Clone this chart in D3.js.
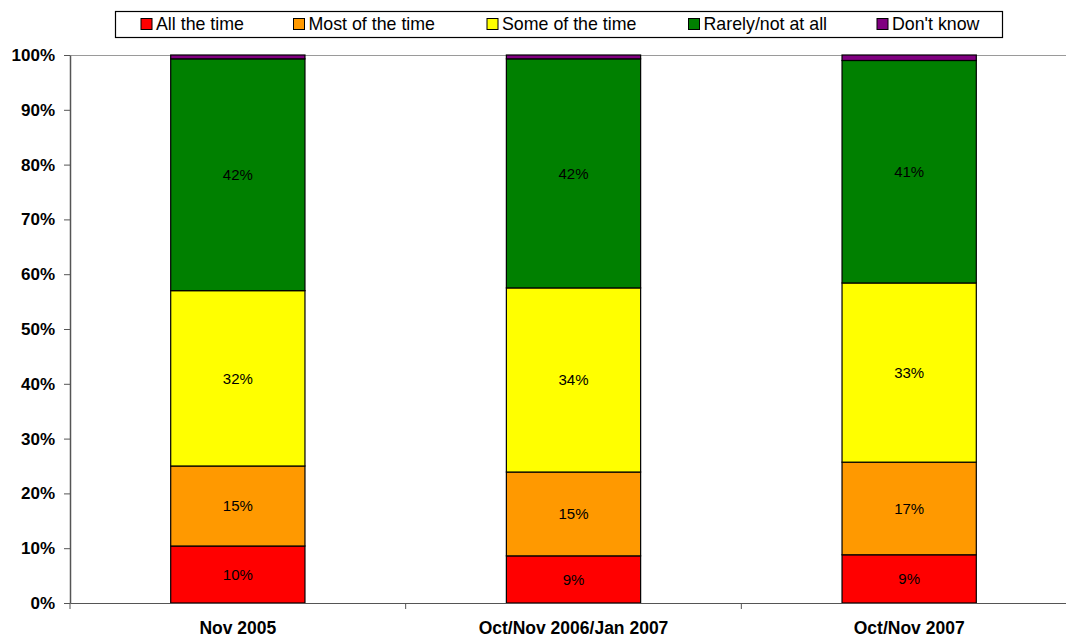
<!DOCTYPE html>
<html>
<head>
<meta charset="utf-8">
<script src="https://cdn.jsdelivr.net/npm/d3@7"></script>
<style>
  html, body { margin: 0; padding: 0; background: #fff; }
  svg { display: block; font-family: "Liberation Sans", Arial, sans-serif; }
</style>
</head>
<body>
<svg id="chart" width="1066" height="639"></svg>
<script>
// Survey waves
const categories = ["Nov 2005", "Oct/Nov 2006/Jan 2007", "Oct/Nov 2007"];

// Response options, bottom to top of each stack
const seriesNames = ["All the time", "Most of the time", "Some of the time", "Rarely/not at all", "Don't know"];
const seriesColors = ["#FF0000", "#FF9900", "#FFFF00", "#008000", "#800080"];

// Share of respondents (%) per wave
const allTheTime   = [10.4, 8.6, 8.8];
const mostOfTime   = [14.6, 15.3, 16.9];
const someOfTime   = [32.0, 33.6, 32.7];
const rarelyNotAll = [42.3, 41.8, 40.6];
const dontKnow     = [0.7, 0.7, 1.0];

// Only the four substantive answers carry value labels
const labelled = [true, true, true, true, false];

const yTicks = [0, 10, 20, 30, 40, 50, 60, 70, 80, 90, 100];

const seriesValues = [allTheTime, mostOfTime, someOfTime, rarelyNotAll, dontKnow];
const rows = categories.map((c, i) => {
  const r = { category: c };
  seriesNames.forEach((s, k) => { r[s] = seriesValues[k][i]; });
  return r;
});

const svg = d3.select("#chart");
const plot = { left: 70, right: 1077, top: 55, bottom: 603 };

const x = d3.scaleBand().domain(categories).range([plot.left, plot.right]).padding(0);
const y = d3.scaleLinear().domain([0, 100]).range([plot.bottom, plot.top]);
const color = d3.scaleOrdinal().domain(seriesNames).range(seriesColors);
const barWidth = x.bandwidth() * 0.4;

const stacked = d3.stack().keys(seriesNames)(rows);

// Plot area top border
svg.append("line")
  .attr("x1", plot.left).attr("x2", plot.right)
  .attr("y1", plot.top + 0.5).attr("y2", plot.top + 0.5)
  .attr("stroke", "#9a9a9a").attr("stroke-width", 1);

// Stacked bars
const layers = svg.append("g").selectAll("g")
  .data(stacked).join("g")
  .attr("fill", d => color(d.key));

layers.selectAll("rect")
  .data(d => d.map(p => ({ p, key: d.key })))
  .join("rect")
  .attr("x", d => x(d.p.data.category) + (x.bandwidth() - barWidth) / 2)
  .attr("y", d => y(d.p[1]))
  .attr("width", barWidth)
  .attr("height", d => y(d.p[0]) - y(d.p[1]))
  .attr("stroke", "#000")
  .attr("stroke-width", 1.2);

// Value labels centred in each segment
const labelLayers = stacked.filter((d, k) => labelled[k]);
svg.append("g").selectAll("g")
  .data(labelLayers).join("g")
  .selectAll("text")
  .data(d => d.map(p => ({ p, key: d.key })))
  .join("text")
  .attr("x", d => x(d.p.data.category) + x.bandwidth() / 2)
  .attr("y", d => y((d.p[0] + d.p[1]) / 2))
  .attr("dy", "0.36em")
  .attr("text-anchor", "middle")
  .attr("font-size", 15)
  .attr("fill", "#000")
  .text(d => Math.round(d.p.data[d.key]) + "%");

// Y axis
const yAxis = svg.append("g")
  .attr("transform", `translate(${plot.left},0)`)
  .call(d3.axisLeft(y).tickValues(yTicks).tickFormat(v => v + "%").tickSize(6).tickSizeOuter(0).tickPadding(9));
yAxis.select(".domain").attr("stroke", "#555").attr("stroke-width", 1.5);
yAxis.selectAll(".tick line").attr("stroke", "#555");
yAxis.selectAll(".tick text")
  .attr("font-family", "'Liberation Sans', Arial, sans-serif")
  .attr("font-size", 17).attr("font-weight", "bold").attr("fill", "#000");

// X axis: baseline, boundary ticks between categories, centred labels
const xAxis = svg.append("g")
  .attr("transform", `translate(0,${plot.bottom})`)
  .call(d3.axisBottom(x).tickSize(0).tickSizeOuter(0).tickPadding(19));
xAxis.select(".domain").attr("stroke", "#555").attr("stroke-width", 1.2);
xAxis.selectAll(".tick text")
  .attr("font-family", "'Liberation Sans', Arial, sans-serif")
  .attr("font-size", 17.5).attr("font-weight", "bold").attr("fill", "#000");

const boundaries = categories.map(c => x(c)).concat([plot.right]);
xAxis.append("g").selectAll("line")
  .data(boundaries).join("line")
  .attr("x1", d => d).attr("x2", d => d)
  .attr("y1", 0).attr("y2", 6)
  .attr("stroke", "#555");

// Legend
const legend = svg.append("g");
legend.append("rect")
  .attr("x", 115.5).attr("y", 11.5).attr("width", 887).attr("height", 26)
  .attr("fill", "#fff").attr("stroke", "#000").attr("stroke-width", 1.2);

const legendX = [141, 293.5, 487, 688.5, 877];
const items = legend.selectAll("g.item")
  .data(seriesNames).join("g")
  .attr("class", "item")
  .attr("transform", (d, i) => `translate(${legendX[i]},18.5)`);
items.append("rect")
  .attr("width", 11).attr("height", 11)
  .attr("fill", d => color(d)).attr("stroke", "#000").attr("stroke-width", 1);
items.append("text")
  .attr("x", 15).attr("y", 11)
  .attr("font-size", 17.8).attr("fill", "#000")
  .text(d => d);
</script>
</body>
</html>
